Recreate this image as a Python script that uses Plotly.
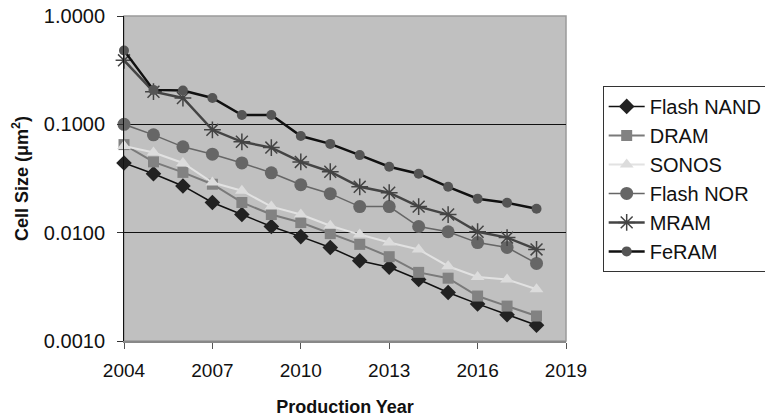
import plotly.graph_objects as go

years = list(range(2004, 2019))
flash_nand = [0.044, 0.035, 0.027, 0.019, 0.0147, 0.0114, 0.0092, 0.0073, 0.0055, 0.0048, 0.0037, 0.0028, 0.0022, 0.00175, 0.0014]
dram = [0.065, 0.045, 0.036, 0.028, 0.019, 0.0147, 0.0124, 0.0098, 0.0078, 0.006, 0.0043, 0.0038, 0.0026, 0.0021, 0.0017]
sonos = [0.063, 0.055, 0.044, 0.029, 0.0244, 0.0174, 0.0147, 0.0116, 0.0096, 0.0081, 0.007, 0.0049, 0.0039, 0.0037, 0.003]
flash_nor = [0.1, 0.08, 0.062, 0.053, 0.044, 0.0357, 0.0277, 0.0229, 0.0174, 0.0174, 0.0114, 0.0102, 0.0081, 0.0073, 0.0052]
mram = [0.39, 0.2, 0.175, 0.089, 0.069, 0.061, 0.045, 0.0365, 0.0265, 0.0234, 0.0174, 0.0147, 0.0102, 0.009, 0.007]
feram = [0.48, 0.208, 0.205, 0.175, 0.122, 0.122, 0.078, 0.066, 0.052, 0.0406, 0.035, 0.0265, 0.0206, 0.0189, 0.0166]

ytick_vals = [0.001, 0.01, 0.1, 1]
ytick_text = ["0.0010", "0.0100", "0.1000", "1.0000"]
xtick_vals = [2004, 2007, 2010, 2013, 2016, 2019]

series = [
    ("Flash NAND", flash_nand, dict(symbol="diamond", size=12, color="#222222"), dict(color="#111111", width=1.5)),
    ("DRAM", dram, dict(symbol="square", size=11, color="#828282"), dict(color="#7a7a7a", width=2)),
    ("SONOS", sonos, dict(symbol="triangle-up", size=12, color="#dcdcdc"), dict(color="#e2e2e2", width=2)),
    ("Flash NOR", flash_nor, dict(symbol="circle", size=13, color="#666666"), dict(color="#666666", width=1.5)),
    ("MRAM", mram, dict(symbol="asterisk-open", size=14, color="#444444", line=dict(width=1.5, color="#444444")), dict(color="#444444", width=2.5)),
    ("FeRAM", feram, dict(symbol="circle", size=10, color="#555555"), dict(color="#111111", width=2.5)),
]

fig = go.Figure()
for name, vals, mk, ln in series:
    fig.add_trace(go.Scatter(x=years, y=vals, name=name, mode="lines+markers", marker=mk, line=ln, cliponaxis=False))

ff = "Liberation Sans, Arial, sans-serif"
fig.update_layout(
    width=765, height=417,
    margin=dict(l=124, r=199, t=16, b=76, autoexpand=False),
    paper_bgcolor="white",
    plot_bgcolor="#c0c0c0",
    font=dict(family=ff, size=19, color="#111111"),
    showlegend=True,
    legend=dict(
        x=1.083, y=0.785, xanchor="left", yanchor="top",
        bgcolor="white", bordercolor="#333333", borderwidth=1,
        font=dict(family=ff, size=20, color="#111111"),
        tracegroupgap=0, itemwidth=36,
    ),
    xaxis=dict(
        range=[2004, 2019], tickvals=xtick_vals, ticks="outside", ticklen=6, tickcolor="#555555",
        ticklabelstandoff=5,
        showgrid=False, zeroline=False, showline=True, linecolor="#888888", linewidth=2,
        title=dict(text="<b>Production Year</b>", font=dict(size=18), standoff=24),
    ),
    yaxis=dict(
        type="log", range=[-3, 0], tickvals=ytick_vals, ticktext=ytick_text,
        ticks="outside", ticklen=6, tickcolor="#333333", ticklabelstandoff=8,
        tickfont=dict(size=20), ticklabeloverflow="allow",
        showgrid=True, gridcolor="#111111", gridwidth=1,
        zeroline=False, showline=True, linecolor="#111111", linewidth=1,
        title=dict(text="<b>Cell Size (μm<sup>2</sup>)</b>", font=dict(size=18), standoff=10),
    ),
)

fig.add_shape(type="rect", xref="paper", yref="paper", x0=0, y0=0, x1=1, y1=1,
              line=dict(color="#9a9a9a", width=1.5), layer="below")

# remove the browser's default 8px body margin so the figure fills the window
fig.write_html("out.html", config={"displayModeBar": False},
               post_script="document.body.style.margin='0';")
